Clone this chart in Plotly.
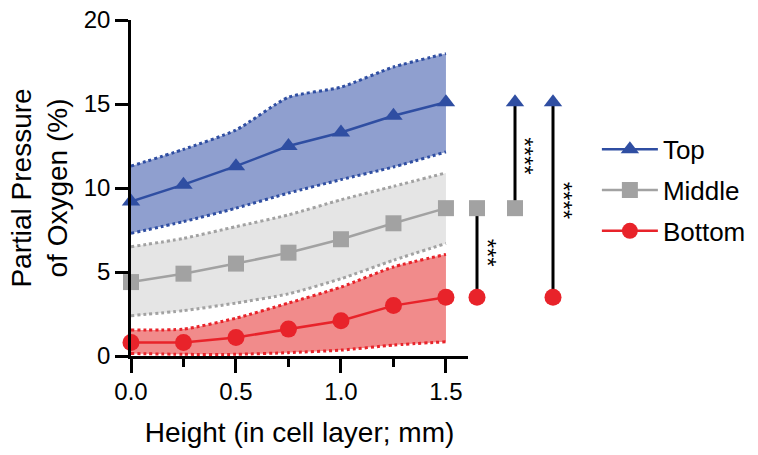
import plotly.graph_objects as go

# ---------------- data ----------------
height_mm = [0, 0.25, 0.5, 0.75, 1.0, 1.25, 1.5]

top_mean = [9.2, 10.2, 11.3, 12.5, 13.3, 14.3, 15.1]
top_upper = [11.3, 12.3, 13.45, 15.4, 16.0, 17.2, 18.0]
top_lower = [7.3, 8.0, 8.8, 9.7, 10.5, 11.25, 12.15]

mid_mean = [4.4, 4.9, 5.5, 6.15, 6.95, 7.9, 8.8]
mid_upper = [6.5, 7.0, 7.7, 8.4, 9.3, 10.1, 10.9]
mid_lower = [2.4, 2.7, 3.15, 3.7, 4.6, 5.7, 6.7]

bot_mean = [0.8, 0.8, 1.1, 1.6, 2.1, 3.0, 3.5]
bot_upper = [1.55, 1.6, 2.25, 3.15, 4.1, 5.3, 6.05]
bot_lower = [0.15, 0.1, 0.1, 0.2, 0.35, 0.65, 0.85]

series_names = ["Top", "Middle", "Bottom"]
comparisons = [("Middle", "Bottom"), ("Top", "Middle"), ("Top", "Bottom")]
comparison_stars = ["***", "****", "****"]

y_ticks = [0, 5, 10, 15, 20]
x_ticks = [0.0, 0.5, 1.0, 1.5]
x_tick_labels = ["0.0", "0.5", "1.0", "1.5"]

# ---------------- styles ----------------
FONT = "Arial, Liberation Sans, sans-serif"
style = {
    "Top": dict(line="#2F4EA2", fill="rgba(143,159,207,1)", symbol="triangle-up", size=16,
                mean=top_mean, upper=top_upper, lower=top_lower),
    "Middle": dict(line="#A2A2A2", fill="rgba(229,229,229,1)", symbol="square", size=16,
                   mean=mid_mean, upper=mid_upper, lower=mid_lower),
    "Bottom": dict(line="#E8232A", fill="rgba(241,139,139,1)", symbol="circle", size=17,
                   mean=bot_mean, upper=bot_upper, lower=bot_lower),
}

fig = go.Figure()

# bands
for name in series_names:
    s = style[name]
    fig.add_trace(go.Scatter(
        x=height_mm, y=s["lower"], mode="lines",
        line=dict(color=s["line"], width=3, dash="dot", shape="spline", smoothing=0.6),
        showlegend=False, hoverinfo="skip", cliponaxis=False))
    fig.add_trace(go.Scatter(
        x=height_mm, y=s["upper"], mode="lines", fill="tonexty", fillcolor=s["fill"],
        line=dict(color=s["line"], width=3, dash="dot", shape="spline", smoothing=0.6),
        showlegend=False, hoverinfo="skip", cliponaxis=False))

# mean lines
for name in series_names:
    s = style[name]
    fig.add_trace(go.Scatter(
        x=height_mm, y=s["mean"], mode="lines+markers", name=name,
        legendgroup=name,
        line=dict(color=s["line"], width=2.5),
        marker=dict(symbol=s["symbol"], size=s["size"], color=s["line"]),
        cliponaxis=False))

# comparison columns (last values)
last = {n: style[n]["mean"][-1] for n in series_names}
comp_labels = [f"{a} vs {b}" for a, b in comparisons]
for i, ((a, b), lab) in enumerate(zip(comparisons, comp_labels)):
    fig.add_trace(go.Scatter(
        x=[lab, lab], y=[last[a], last[b]], xaxis="x2", mode="lines",
        line=dict(color="black", width=3), showlegend=False, hoverinfo="skip",
        cliponaxis=False))
    for n in (a, b):
        s = style[n]
        fig.add_trace(go.Scatter(
            x=[lab], y=[last[n]], xaxis="x2", mode="markers",
            marker=dict(symbol=s["symbol"], size=s["size"], color=s["line"]),
            showlegend=False, hoverinfo="skip", cliponaxis=False))
    fig.add_annotation(
        x=i, y=(last[a] + last[b]) / 2, xref="x2", yref="y",
        text=comparison_stars[i], showarrow=False, textangle=90, xshift=10,
        font=dict(family=FONT, size=24, color="black"))

# geometry in page pixels
W, H = 758, 455
L, R_PX = 131, 590
T_PX, B_PX = 20, 356
X1_END = 468
d1 = (X1_END - L) / (R_PX - L)

fig.update_layout(
    width=W, height=H,
    margin=dict(l=L, r=W - R_PX, t=T_PX, b=H - B_PX, autoexpand=False),
    paper_bgcolor="white", plot_bgcolor="white",
    font=dict(family=FONT, size=24, color="black"),
    showlegend=True,
    legend=dict(
        x=1.015, y=0.685, xanchor="left", yanchor="top",
        font=dict(family=FONT, size=26, color="black"),
        itemwidth=56, tracegroupgap=4, traceorder="grouped",
        bgcolor="rgba(0,0,0,0)"),
    xaxis=dict(
        domain=[0, d1], range=[0, 1.605], anchor="y",
        showline=True, linecolor="black", linewidth=2.5,
        ticks="outside", ticklen=14, tickwidth=2.5, tickcolor="black",
        tickvals=x_ticks, ticktext=x_tick_labels,
        tickfont=dict(family=FONT, size=24, color="black"),
        ticklabelstandoff=-2,
        minor=dict(dtick=0.25, tick0=0, ticks="outside", ticklen=8, tickwidth=2.5,
                   tickcolor="black", showgrid=False),
        showgrid=False, zeroline=False,
        title=dict(text="Height (in cell layer; mm)", standoff=19,
                   font=dict(family=FONT, size=28, color="black")),
    ),
    xaxis2=dict(
        domain=[d1, 1], anchor="y", type="category",
        categoryorder="array", categoryarray=comp_labels,
        range=[-(477 - 468) / 38, (590 - 477) / 38],
        visible=False, showgrid=False, zeroline=False,
    ),
    yaxis=dict(
        range=[0, 20], showline=True, linecolor="black", linewidth=2.5,
        ticks="outside", ticklen=13, tickwidth=2.5, tickcolor="black",
        tickvals=y_ticks,
        tickfont=dict(family=FONT, size=24, color="black"),
        showgrid=False, zeroline=False,
        title=dict(text="Partial Pressure<br>of Oxygen (%)", standoff=8,
                   font=dict(family=FONT, size=28, color="black")),
    ),
)

# the page body has a default 8px margin; remove it so the figure fills the window
fig.write_html("out.html", config={"displayModeBar": False},
               post_script="document.body.style.margin='0px';")
